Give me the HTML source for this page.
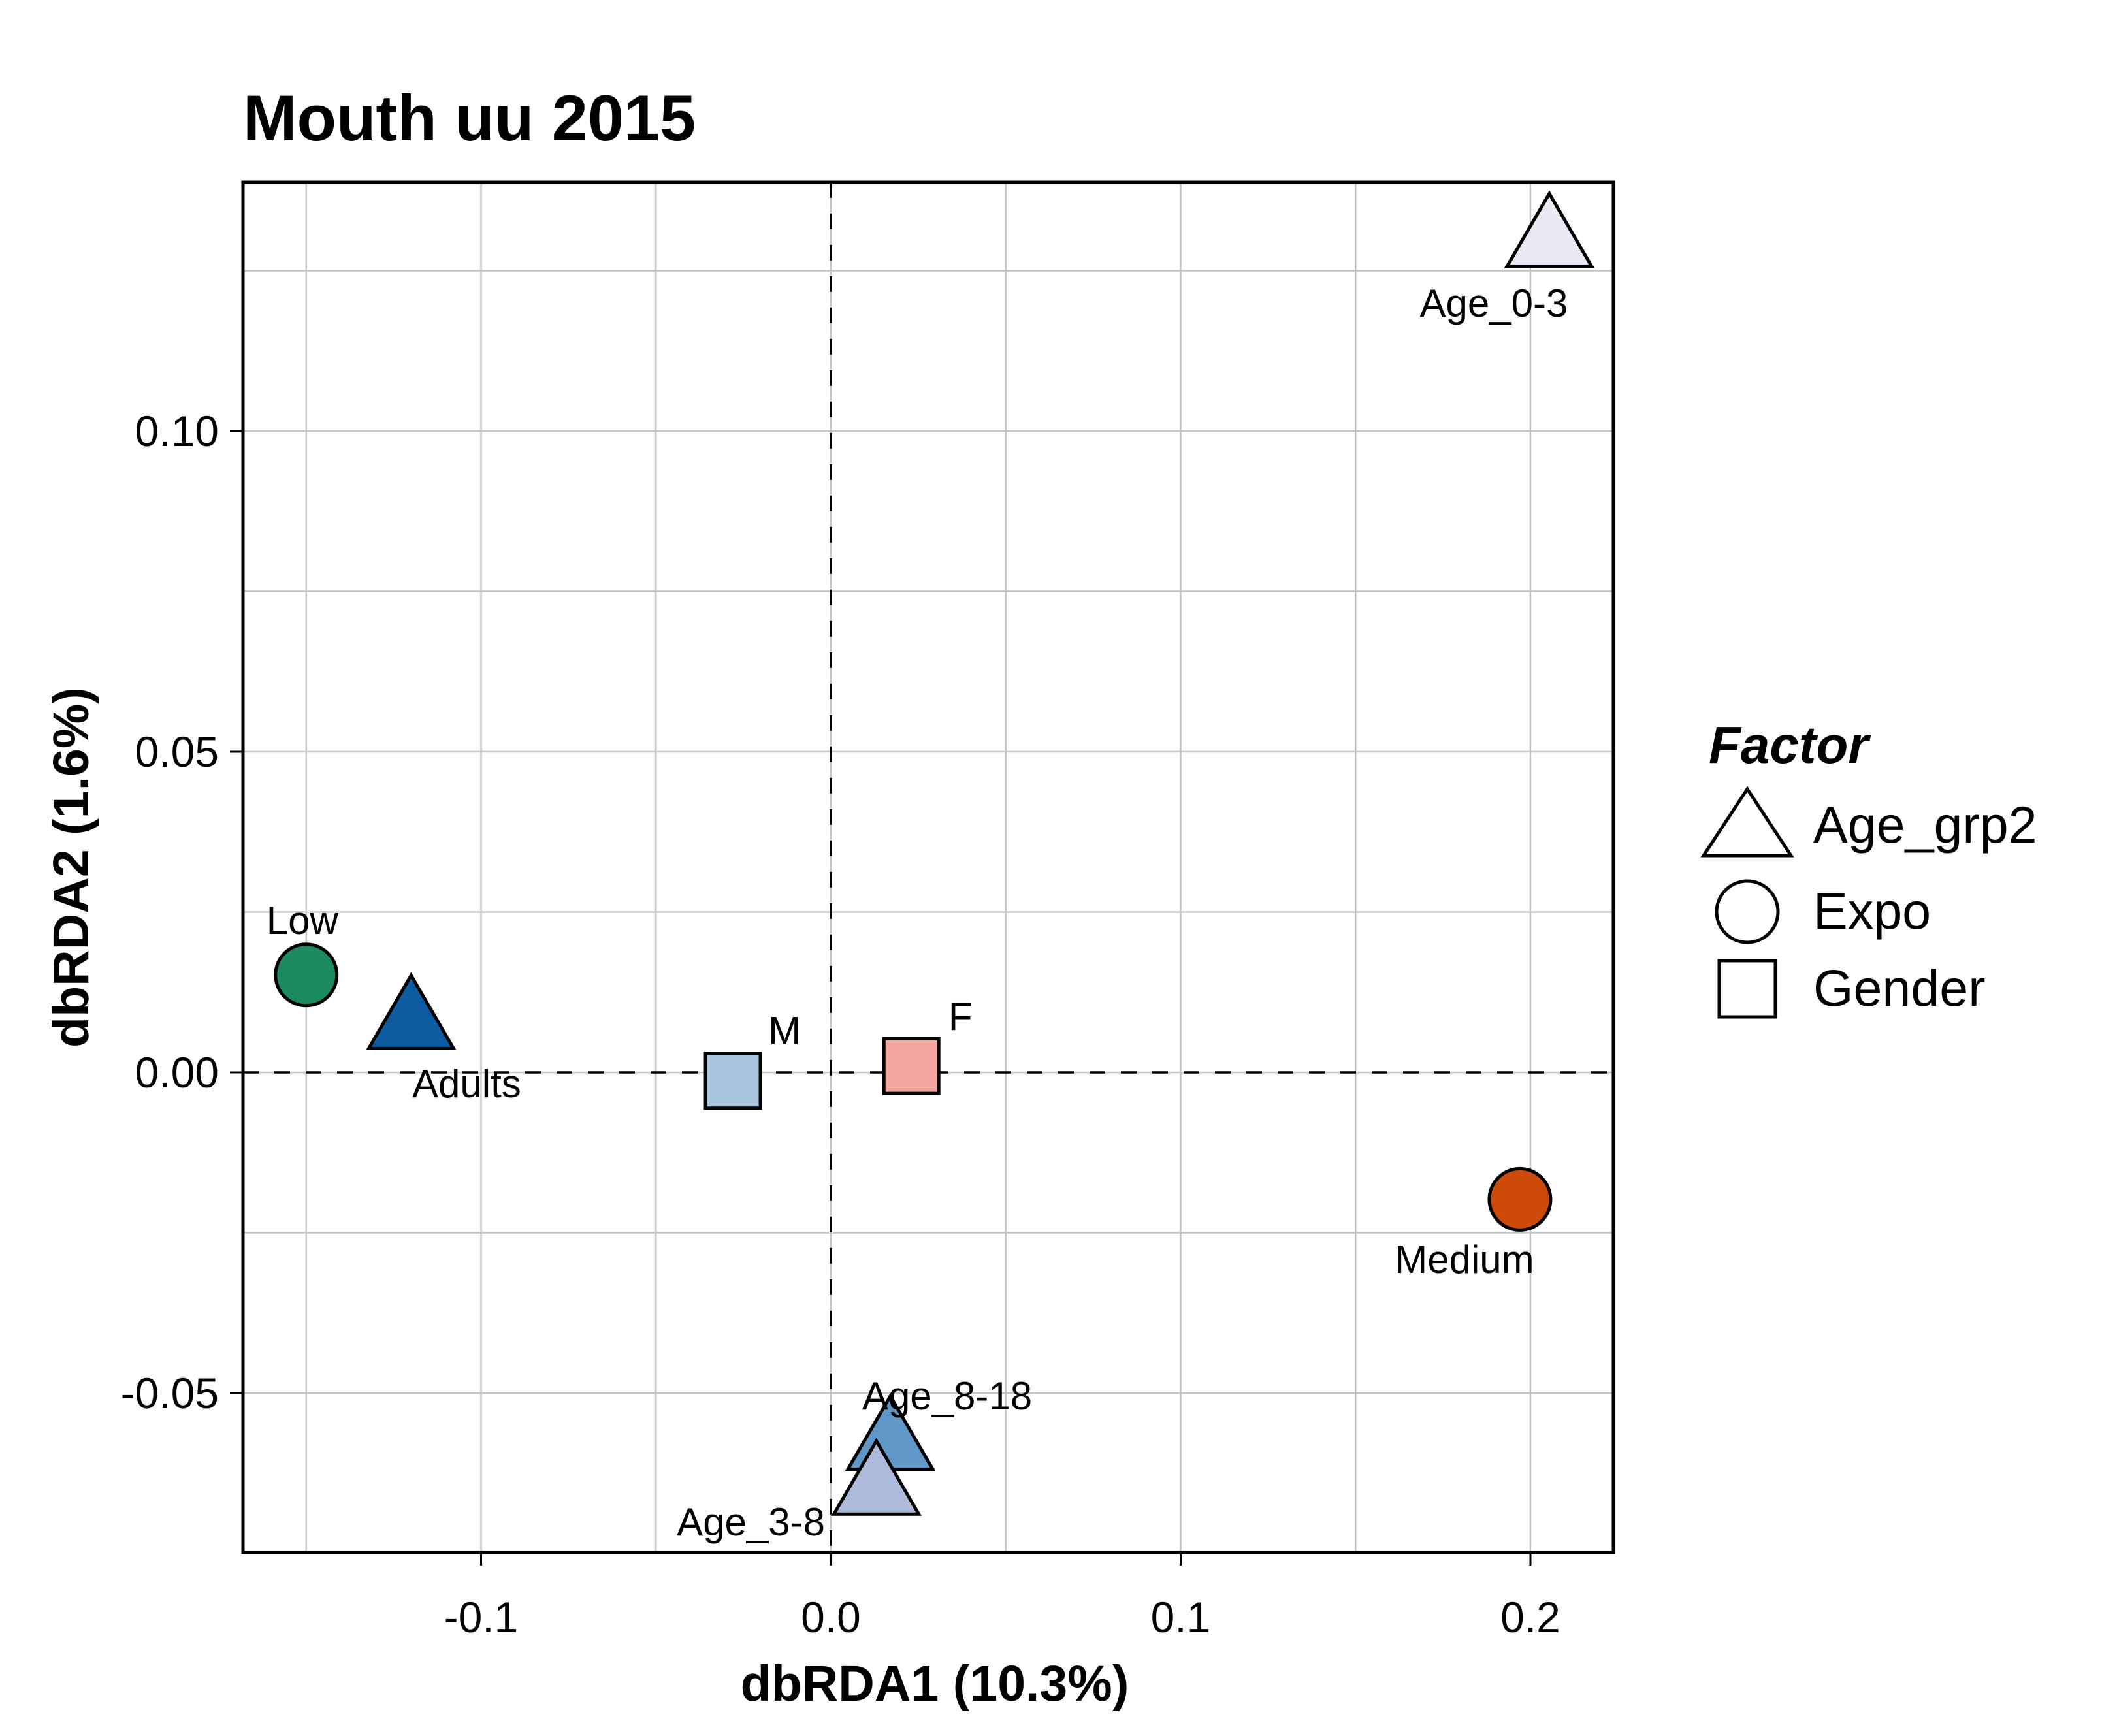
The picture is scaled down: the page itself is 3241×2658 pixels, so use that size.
<!DOCTYPE html>
<html><head><meta charset="utf-8"><style>
html,body{margin:0;padding:0;background:#fff;}
svg{display:block;font-family:"Liberation Sans",Arial,sans-serif;}
</style></head><body>
<svg id="chart" width="3241" height="2658" viewBox="0 0 3241 2658" xmlns="http://www.w3.org/2000/svg">
<rect width="3241" height="2658" fill="#fff"/>
<text x="372" y="215" font-size="99" font-weight="bold">Mouth uu 2015</text>
<g id="grid"></g>
<g id="marks"></g>
<rect x="372" y="279" width="2098" height="2098" fill="none" stroke="#000" stroke-width="5"/>
<g id="axes"></g>
<text x="1431" y="2604" font-size="77" font-weight="bold" text-anchor="middle">dbRDA1 (10.3%)</text>
<text transform="translate(135,1328) rotate(-90)" font-size="77" font-weight="bold" text-anchor="middle">dbRDA2 (1.6%)</text>
<g>
<text x="2616" y="1168" font-size="80" font-weight="bold" font-style="italic">Factor</text>
<polygon points="2675,1208 2742,1310 2608,1310" fill="#fff" stroke="#000" stroke-width="5"/>
<circle cx="2675" cy="1396" r="47" fill="#fff" stroke="#000" stroke-width="5"/>
<rect x="2632" y="1471" width="86" height="86" fill="#fff" stroke="#000" stroke-width="5"/>
<text x="2776" y="1290" font-size="79">Age_grp2</text>
<text x="2776" y="1422" font-size="79">Expo</text>
<text x="2776" y="1540" font-size="79">Gender</text>
</g>
</svg>
<script>
const labels = ["Age_0-3","Low","Adults","M","F","Medium","Age_8-18","Age_3-8"];
const xVals = [0.2054,-0.150,-0.120,-0.028,0.023,0.197,0.017,0.013];
const yVals = [0.1295,0.0152,0.0076,-0.0013,0.0010,-0.0198,-0.0580,-0.0650];
const shapes = ["tri","circ","tri","sq","sq","circ","tri","tri"];
const fills = ["#ebe7f3","#1b8a5e","#0e5ba1","#a8c3de","#f4a6a0","#cc4a0a","#5f97c6","#aebadb"];
const xTicks = [-0.1,0.0,0.1,0.2];
const xTickLabels = ["-0.1","0.0","0.1","0.2"];
const yTicks = [-0.05,0.0,0.05,0.10];
const yTickLabels = ["-0.05","0.00","0.05","0.10"];
const xMinor = [-0.15,-0.05,0.05,0.15];
const yMinor = [-0.025,0.025,0.075,0.125];
const labelDx = [-85,-6,85,79,75,-85,87,-192];
const labelDy = [94,-83,92,-77,-75,92,-74,50];

const L=372,R=2470,T=279,B=2377;
const X = v => 1272 + v*5355;
const Y = v => 1642 - v*9820;
const NS="http://www.w3.org/2000/svg";
function mk(tag, attrs, parent){const e=document.createElementNS(NS,tag);for(const k in attrs)e.setAttribute(k,attrs[k]);parent.appendChild(e);return e;}
const grid=document.getElementById('grid'), marks=document.getElementById('marks'), axes=document.getElementById('axes');

xMinor.concat(xTicks).forEach(v=>{const x=X(v);if(x<L||x>R)return;
  const l=mk('line',{x1:x,x2:x,y1:T,y2:B,stroke:'#c4c4c4','stroke-width':2.5},grid);
  
  });
yMinor.concat(yTicks).forEach(v=>{const y=Y(v);if(y<T||y>B)return;
  const l=mk('line',{x1:L,x2:R,y1:y,y2:y,stroke:'#c4c4c4','stroke-width':2.5},grid);
  
  });
const dv=mk('line',{x1:X(0),x2:X(0),y1:T,y2:B,stroke:'#000','stroke-width':3.5,'stroke-dasharray':'24 24'},grid);


const dh=mk('line',{x1:L,x2:R,y1:Y(0),y2:Y(0),stroke:'#000','stroke-width':3.5,'stroke-dasharray':'24 24'},grid);



labels.forEach((lab,i)=>{
  const cx=X(xVals[i]), cy=Y(yVals[i]);
  let m;
  if(shapes[i]==='tri'){
    m=mk('polygon',{points:`${cx},${cy-74} ${cx+65},${cy+38} ${cx-65},${cy+38}`,fill:fills[i],stroke:'#000','stroke-width':5,'stroke-linejoin':'miter'},marks);
  } else if(shapes[i]==='circ'){
    m=mk('circle',{cx:cx,cy:cy,r:47,fill:fills[i],stroke:'#000','stroke-width':5},marks);
  } else {
    m=mk('rect',{x:cx-42,y:cy-42,width:84,height:84,fill:fills[i],stroke:'#000','stroke-width':5},marks);
  }
  
  
});
labels.forEach((lab,i)=>{
  const t=mk('text',{x:X(xVals[i])+labelDx[i],y:Y(yVals[i])+labelDy[i],'font-size':60,'text-anchor':'middle','dominant-baseline':'central'},marks);
  t.textContent=lab;
  
  
});

xTicks.forEach((v,i)=>{const x=X(v);
  const tk=mk('line',{x1:x,x2:x,y1:B,y2:B+20,stroke:'#000','stroke-width':3},axes);
  
  
  const t=mk('text',{x:x,y:2499,'font-size':66,'text-anchor':'middle'},axes);
  t.textContent=xTickLabels[i];
  
  });
yTicks.forEach((v,i)=>{const y=Y(v);
  const tk=mk('line',{x1:L-20,x2:L,y1:y,y2:y,stroke:'#000','stroke-width':3},axes);
  
  
  const t=mk('text',{x:335,y:y,'font-size':66,'text-anchor':'end','dominant-baseline':'central'},axes);
  t.textContent=yTickLabels[i];
  
  });
</script>
</body></html>
